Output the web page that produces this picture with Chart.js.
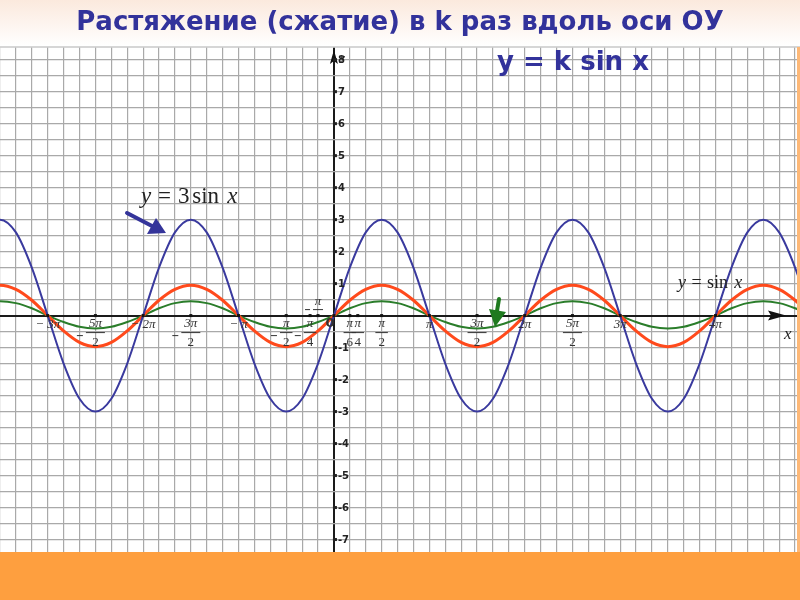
<!DOCTYPE html>
<html><head><meta charset="utf-8">
<script src="https://cdn.jsdelivr.net/npm/chart.js@4"></script>
<style>html,body{margin:0;padding:0;background:#fff;}#wrap{position:relative;width:800px;height:600px;}</style>
</head><body><div id="wrap"><canvas id="c" width="800" height="600"></canvas></div>
<script>
// x positions in units of pi/6 (one grid square)
const xs = [-22,-21,-20,-19,-18,-17,-16,-15,-14,-13,-12,-11,-10,-9,-8,-7,-6,-5,-4,-3,-2,-1,0,1,2,3,4,5,6,7,8,9,10,11,12,13,14,15,16,17,18,19,20,21,22,23,24,25,26,27,28,29,30];
// y = 3 sin x (blue)
const blueVals = [2.6,3,2.6,1.5,0,-1.5,-2.6,-3,-2.6,-1.5,0,1.5, 2.6,3,2.6,1.5,0,-1.5,-2.6,-3,-2.6,-1.5,0,1.5, 2.6,3,2.6,1.5,0,-1.5,-2.6,-3,-2.6,-1.5,0,1.5, 2.6,3,2.6,1.5,0,-1.5,-2.6,-3,-2.6,-1.5,0,1.5, 2.6,3,2.6,1.5,0];
// y = sin x (red)
const redVals = [0.82,0.95,0.82,0.48,0,-0.48,-0.84,-0.97,-0.84,-0.48,0,0.48, 0.82,0.95,0.82,0.48,0,-0.48,-0.84,-0.97,-0.84,-0.48,0,0.48, 0.82,0.95,0.82,0.48,0,-0.48,-0.84,-0.97,-0.84,-0.48,0,0.48, 0.82,0.95,0.82,0.48,0,-0.48,-0.84,-0.97,-0.84,-0.48,0,0.48, 0.82,0.95,0.82,0.48,0];
// y = 0.5 sin x (green)
const greenVals = [0.39,0.45,0.39,0.23,0,-0.2,-0.35,-0.4,-0.35,-0.2,0,0.23, 0.39,0.45,0.39,0.23,0,-0.2,-0.35,-0.4,-0.35,-0.2,0,0.23, 0.39,0.45,0.39,0.23,0,-0.2,-0.35,-0.4,-0.35,-0.2,0,0.23, 0.39,0.45,0.39,0.23,0,-0.2,-0.35,-0.4,-0.35,-0.2,0,0.23, 0.39,0.45,0.39,0.23,0];
// x tick labels: position (pi/6 units), sign, numerator, denominator
const xTickPos  = [-18,-15,-12,-9,-6,-3,-1.5,-1,0,1,1.5,3,6,9,12,15,18,24];
const xTickNeg  = [true,true,true,true,true,true,true,true,false,false,false,false,false,false,false,false,false,false];
const xTickNum  = ['3π','5π','2π','3π','π','π','π','π','0','π','π','π','π','3π','2π','5π','3π','4π'];
const xTickDen  = ['','2','','2','','2','4','6','','6','4','2','','2','','2','',''];
const yTickVals = [8,7,6,5,4,3,2,1,-1,-2,-3,-4,-5,-6,-7];

const titleText = 'Растяжение (сжатие) в k раз вдоль оси ОУ';
const subtitleText = 'y = k sin x';

const pts = v => xs.map((x,i)=>({x:x,y:v[i]}));

function formula(c, x, y, size, coef){
  // draws "y = <coef>sin x" with italic variables
  c.font='italic '+size+'px "Liberation Serif"'; c.fillText('y', x, y);
  let cx = x + c.measureText('y').width + size*0.3;
  c.font=size+'px "Liberation Serif"'; c.fillText('=', cx, y);
  cx += c.measureText('=').width + size*0.3;
  if(coef){ c.fillText(coef, cx, y); cx += c.measureText(coef).width + size*0.12; }
  c.fillText('sin', cx, y);
  cx += c.measureText('sin').width + size*0.35;
  c.font='italic '+size+'px "Liberation Serif"'; c.fillText('x', cx, y);
}

const deco = {
  id:'deco',
  beforeDraw(chart){
    const c = chart.ctx; const W = chart.width;
    c.save();
    const g = c.createLinearGradient(0,0,0,46);
    g.addColorStop(0,'#fbe9dd'); g.addColorStop(1,'#ffffff');
    c.fillStyle = g; c.fillRect(0,0,W,47);
    c.restore();
  },
  afterDatasetsDraw(chart){
    const c = chart.ctx, xS = chart.scales.x, yS = chart.scales.y;
    const x0 = xS.getPixelForValue(0), y0 = yS.getPixelForValue(0);
    c.save();
    // top separator
    c.strokeStyle='#c8c8c8'; c.lineWidth=1.5;
    c.beginPath(); c.moveTo(0,47); c.lineTo(800,47); c.stroke();
    // axis arrows
    c.fillStyle='#111';
    c.beginPath(); c.moveTo(786,y0); c.lineTo(768,y0-5); c.lineTo(771,y0); c.lineTo(768,y0+5); c.closePath(); c.fill();
    c.beginPath(); c.moveTo(x0,50); c.lineTo(x0-4,64); c.lineTo(x0,61); c.lineTo(x0+4,64); c.closePath(); c.fill();
    // y ticks
    c.font='bold 10px "DejaVu Sans"'; c.textBaseline='middle'; c.textAlign='left';
    c.fillStyle='#222';
    yTickVals.forEach(v=>{
      const py = yS.getPixelForValue(v);
      c.fillRect(x0-1,py-1.5,4,3);
      c.fillText(v<0?'-'+Math.abs(v):String(v), x0+4, py+1);
    });
    c.font='italic 11px "Liberation Serif"';
    c.fillText('y', x0+6, 58);
    c.font='italic 17px "Liberation Serif"';
    c.fillText('x', 784, y0+19);
    // x ticks
    c.fillStyle='#333'; c.strokeStyle='#333'; c.lineWidth=1;
    xTickPos.forEach((p,i)=>{
      const px = xS.getPixelForValue(p);
      c.fillStyle='#111'; c.fillRect(px-1.5,y0-1.5,3,3); c.fillStyle='#333';
      const num = xTickNum[i], den = xTickDen[i], neg = xTickNeg[i];
      c.textAlign='center'; c.textBaseline='middle';
      c.font='italic 13px "Liberation Serif"';
      if(p===-1){ // -π/6 drawn above the axis
        c.fillText(num, px, y0-14);
        c.beginPath(); c.moveTo(px-5,y0-6); c.lineTo(px+5,y0-6); c.stroke();
        c.beginPath(); c.moveTo(px-13,y0-6); c.lineTo(px-8,y0-6); c.stroke();
        return;
      }
      if(num==='0'){ c.font='bold 13px "DejaVu Sans"'; c.fillText('0', px-4, y0+8); return; }
      if(den===''){
        c.fillText((neg?'− ':'')+num, px, y0+9);
      } else {
        const w = c.measureText(num).width/2+3;
        c.fillText(num, px, y0+8);
        c.beginPath(); c.moveTo(px-w,y0+17); c.lineTo(px+w,y0+17); c.stroke();
        c.font='13px "Liberation Serif"';
        c.fillText(den, px, y0+27);
        if(neg){ c.beginPath(); c.moveTo(px-w-9,y0+20); c.lineTo(px-w-3,y0+20); c.stroke(); }
      }
    });
    // formula labels
    c.fillStyle='#222'; c.textAlign='left'; c.textBaseline='alphabetic';
    formula(c, 141, 203, 23, '3');
    formula(c, 678, 288, 18, '');
    // blue arrow
    c.strokeStyle='#34349a'; c.fillStyle='#34349a'; c.lineWidth=4; c.lineCap='round';
    c.beginPath(); c.moveTo(127,213); c.lineTo(152,226); c.stroke();
    c.beginPath(); c.moveTo(166,233); c.lineTo(147,234); c.lineTo(156,218); c.closePath(); c.fill();
    // green arrow
    c.strokeStyle='#1f7a1f'; c.fillStyle='#1f7a1f'; c.lineWidth=4;
    c.beginPath(); c.moveTo(499,299); c.lineTo(497,311); c.stroke();
    c.beginPath(); c.moveTo(495,327); c.lineTo(489,309); c.lineTo(506,312); c.closePath(); c.fill();
    // subtitle
    c.fillStyle='#32329b'; c.font='bold 26px "DejaVu Sans"'; c.textBaseline='middle';
    c.fillText(subtitleText, 497, 63);
    // bottom orange band
    c.fillStyle='#fe9f3f'; c.fillRect(0,552,800,48);
    c.fillStyle='#fdb877'; c.fillRect(797,47,3,505);
    c.restore();
  }
};

const gridColor = ctx => ctx.tick && ctx.tick.value===0 ? '#1a1a1a' : '#a9a9a9';
const gridWidth = ctx => ctx.tick && ctx.tick.value===0 ? 2 : 1.2;

new Chart(document.getElementById('c'), {
  type:'line',
  data:{datasets:[
    {label:'y = 3 sin x', data:pts(blueVals), borderColor:'#3a3a9e', borderWidth:2, pointRadius:0, cubicInterpolationMode:'monotone'},
    {label:'y = sin x', data:pts(redVals), borderColor:'#ff4a1c', borderWidth:3, pointRadius:0, cubicInterpolationMode:'monotone'},
    {label:'y = 0.5 sin x', data:pts(greenVals), borderColor:'#2a7d2a', borderWidth:2, pointRadius:0, cubicInterpolationMode:'monotone'}
  ]},
  options:{
    responsive:false, animation:false, events:[],
    layout:{padding:{top:0,bottom:48,left:0,right:0}},
    plugins:{
      legend:{display:false}, tooltip:{enabled:false},
      title:{display:true, text:titleText, color:'#32329b', font:{family:'DejaVu Sans', size:26, weight:'bold'}, padding:{top:8,bottom:8}}
    },
    scales:{
      x:{type:'linear', min:-21.0, max:29.31, ticks:{display:false, stepSize:1, includeBounds:false}, border:{display:false}, grid:{drawTicks:false, color:gridColor, lineWidth:gridWidth}},
      y:{type:'linear', min:-7.39, max:8.39, ticks:{display:false, stepSize:0.5, includeBounds:false}, border:{display:false}, grid:{drawTicks:false, color:gridColor, lineWidth:gridWidth}}
    }
  },
  plugins:[deco]
});
</script></body></html>
